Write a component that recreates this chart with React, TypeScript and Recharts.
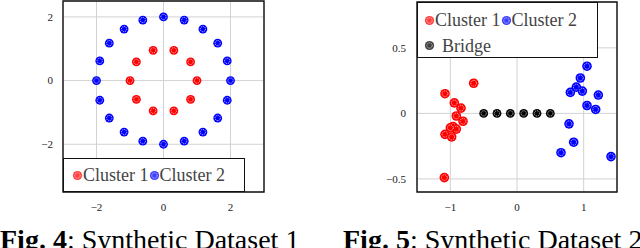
import React from 'react'
import {
  ScatterChart,
  Scatter,
  XAxis,
  YAxis,
  CartesianGrid,
  ReferenceArea,
  Legend,
} from 'recharts'

// Fig. 4 - two concentric rings
const ring1X = [1, 0.809, 0.309, -0.309, -0.809, -1, -0.809, -0.309, 0.309, 0.809]
const ring1Y = [0, 0.588, 0.951, 0.951, 0.588, 0, -0.588, -0.951, -0.951, -0.588]
const ring2X = [2, 1.902, 1.618, 1.176, 0.618, 0, -0.618, -1.176, -1.618, -1.902, -2, -1.902, -1.618, -1.176, -0.618, 0, 0.618, 1.176, 1.618, 1.902]
const ring2Y = [0, 0.618, 1.176, 1.618, 1.902, 2, 1.902, 1.618, 1.176, 0.618, 0, -0.618, -1.176, -1.618, -1.902, -2, -1.902, -1.618, -1.176, -0.618]
const fig4Ticks = [-2, 0, 2]

// Fig. 5 - two blobs with a bridge
const blob1X = [-1.08, -0.65, -0.94, -0.84, -0.91, -0.81, -0.96, -0.91, -1.0, -1.08, -0.98, -1.09]
const blob1Y = [0.15, 0.23, 0.08, 0.04, -0.02, -0.06, -0.1, -0.12, -0.11, -0.16, -0.18, -0.49]
const blob2X = [1.05, 0.95, 0.89, 0.98, 0.8, 1.22, 1.05, 1.18, 0.78, 0.85, 0.66, 1.41]
const blob2Y = [0.36, 0.27, 0.2, 0.17, 0.16, 0.14, 0.06, 0.03, -0.08, -0.22, -0.3, -0.33]
const bridgeX = [-0.5, -0.3, -0.1, 0.1, 0.3, 0.5]
const bridgeY = [0, 0, 0, 0, 0, 0]
const fig5XTicks = [-1, 0, 1]
const fig5YTicks = [-0.5, 0, 0.5]

const zip = (xs: number[], ys: number[]) => xs.map((x, i) => ({ x, y: ys[i] }))

const RED = '#ff0000'
const BLUE = '#0000ff'
const BLACK = '#000000'
const serif = '"Liberation Serif", "Times New Roman", serif'

const fmt = (v: number) => (v < 0 ? '\u2212' + String(Math.abs(v)) : String(v))

function mark(r: number) {
  return (props: any) => {
    const { cx, cy, fill } = props
    if (cx == null || cy == null) return <g />
    return (
      <g>
        <circle cx={cx} cy={cy} r={r} fill={fill} />
        <circle cx={cx} cy={cy} r={r * 0.6} fill="none" stroke="#fff" strokeWidth={0.7} strokeDasharray="1.2 0.8" />
      </g>
    )
  }
}

function LegendDot({ color }: { color: string }) {
  return (
    <svg width={11} height={11} style={{ display: 'inline-block', verticalAlign: 'middle' }}>
      <circle cx={5.5} cy={5.5} r={4.6} fill={color} opacity={0.75} />
      <circle cx={5.5} cy={5.5} r={2.7} fill="none" stroke="#fff" strokeWidth={0.7} strokeDasharray="1.2 0.8" />
    </svg>
  )
}

const legendText: React.CSSProperties = { fontFamily: serif, fontSize: 18, color: '#444', verticalAlign: 'middle' }

function Legend4() {
  return (
    <div style={{ border: '1.4px solid #111', background: '#fff', height: '100%', boxSizing: 'border-box', padding: '4px 0 0 8px', whiteSpace: 'nowrap', lineHeight: '22px' }}>
      <LegendDot color={RED} />
      <span style={legendText}>Cluster 1</span>
      <LegendDot color={BLUE} />
      <span style={legendText}>Cluster 2</span>
    </div>
  )
}

function Legend5() {
  return (
    <div style={{ border: '1.4px solid #111', background: '#fff', height: '100%', boxSizing: 'border-box', padding: '4px 0 0 6px', whiteSpace: 'nowrap', lineHeight: '24px' }}>
      <div>
        <LegendDot color={RED} />
        <span style={legendText}>Cluster 1</span>
        <LegendDot color={BLUE} />
        <span style={legendText}>Cluster 2</span>
      </div>
      <div>
        <LegendDot color={BLACK} />
        <span style={{ ...legendText, marginLeft: 7 }}>Bridge</span>
      </div>
    </div>
  )
}

const tickStyle = { fontSize: 11, fill: '#222', fontFamily: serif }

export default function App() {
  return (
    <div style={{ position: 'fixed', left: 0, top: 0, width: 640, height: 248, overflow: 'hidden', background: '#fff' }}>
      <div style={{ position: 'absolute', left: 0, top: 0 }}>
        <ScatterChart width={320} height={248} margin={{ top: 1, right: 56, bottom: 36, left: 0 }}>
          <CartesianGrid stroke="#d2d2d2" strokeWidth={1} />
          <XAxis type="number" dataKey="x" domain={[-3, 3]} ticks={fig4Ticks} allowDataOverflow height={20}
            axisLine={false} tickLine={false} tickSize={0} tickMargin={11} tick={tickStyle} tickFormatter={fmt} />
          <YAxis type="number" dataKey="y" domain={[-3.5, 2.5]} ticks={fig4Ticks} allowDataOverflow width={63}
            axisLine={false} tickLine={false} tickSize={0} tickMargin={10} tick={tickStyle} tickFormatter={fmt} />
          <ReferenceArea x1={-3} x2={3} y1={-3.5} y2={2.5} fill="none" stroke="#111" strokeWidth={1.4} fillOpacity={0} />
          <Scatter name="Cluster 1" data={zip(ring1X, ring1Y)} fill={RED} shape={mark(4.4)} isAnimationActive={false} />
          <Scatter name="Cluster 2" data={zip(ring2X, ring2Y)} fill={BLUE} shape={mark(4.4)} isAnimationActive={false} />
          <Legend verticalAlign="middle" layout="horizontal" content={() => <Legend4 />}
            wrapperStyle={{ left: 63, top: 158, width: 182, height: 34 }} />
        </ScatterChart>
      </div>
      <div style={{ position: 'absolute', left: 320, top: 0 }}>
        <ScatterChart width={320} height={248} margin={{ top: 2, right: 23, bottom: 36, left: 0 }}>
          <CartesianGrid stroke="#d2d2d2" strokeWidth={1} />
          <XAxis type="number" dataKey="x" domain={[-1.5, 1.5]} ticks={fig5XTicks} allowDataOverflow height={20}
            axisLine={false} tickLine={false} tickSize={0} tickMargin={11} tick={tickStyle} tickFormatter={fmt} />
          <YAxis type="number" dataKey="y" domain={[-0.6, 0.85]} ticks={fig5YTicks} allowDataOverflow width={97}
            axisLine={false} tickLine={false} tickSize={0} tickMargin={11} tick={tickStyle} tickFormatter={fmt} />
          <ReferenceArea x1={-1.5} x2={1.5} y1={-0.6} y2={0.85} fill="none" stroke="#111" strokeWidth={1.4} fillOpacity={0} />
          <Scatter name="Cluster 1" data={zip(blob1X, blob1Y)} fill={RED} shape={mark(4.8)} isAnimationActive={false} />
          <Scatter name="Cluster 2" data={zip(blob2X, blob2Y)} fill={BLUE} shape={mark(4.8)} isAnimationActive={false} />
          <Scatter name="Bridge" data={zip(bridgeX, bridgeY)} fill={BLACK} shape={mark(4.4)} isAnimationActive={false} />
          <Legend verticalAlign="middle" layout="horizontal" content={() => <Legend5 />}
            wrapperStyle={{ left: 97, top: 2, width: 181, height: 56 }} />
        </ScatterChart>
      </div>
      <svg width={640} height={248} style={{ position: 'absolute', left: 0, top: 0, pointerEvents: 'none' }}>
        <text x={0} y={249} fontFamily={serif} fontSize={28} fill="#000">
          <tspan fontWeight="bold">Fig. 4</tspan>: Synthetic Dataset 1
        </text>
        <text x={343} y={249} fontFamily={serif} fontSize={28} fill="#000">
          <tspan fontWeight="bold">Fig. 5</tspan>: Synthetic Dataset 2
        </text>
      </svg>
    </div>
  )
}
